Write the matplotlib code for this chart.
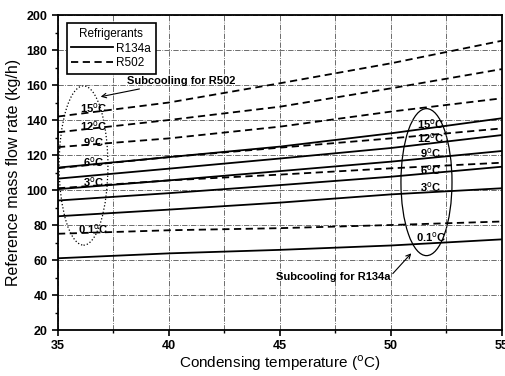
import numpy as np
import matplotlib.pyplot as plt
from matplotlib.patches import Ellipse
from matplotlib.ticker import MultipleLocator

plt.rcParams['font.family'] = ['Liberation Sans', 'DejaVu Sans']

# Condensing temperature (C)
t_cond = [35, 40, 45, 50, 55]

# subcooling levels
subcool = ['0.1', '3', '6', '9', '12', '15']

# R134a reference mass flow rate (kg/h), one list per subcooling level
r134a_01 = [61.0, 63.8, 65.8, 68.3, 71.8]
r134a_3 = [85.0, 88.8, 92.8, 97.5, 101.0]
r134a_6 = [94.0, 98.2, 102.8, 107.6, 113.3]
r134a_9 = [100.5, 105.5, 110.8, 116.2, 122.3]
r134a_12 = [106.5, 112.2, 118.0, 124.0, 131.4]
r134a_15 = [112.8, 118.8, 124.8, 132.4, 141.0]

# R502 reference mass flow rate (kg/h)
r502_01 = [75.0, 77.0, 78.2, 80.0, 82.0]
r502_3 = [101.0, 105.5, 108.8, 112.4, 115.6]
r502_6 = [112.5, 118.8, 124.2, 129.5, 135.2]
r502_9 = [124.5, 129.5, 136.2, 144.8, 152.4]
r502_12 = [133.0, 140.0, 147.6, 158.1, 169.1]
r502_15 = [142.0, 150.0, 161.0, 172.4, 185.3]

r134a = [r134a_01, r134a_3, r134a_6, r134a_9, r134a_12, r134a_15]
r502 = [r502_01, r502_3, r502_6, r502_9, r502_12, r502_15]

fig = plt.figure(figsize=(5.06, 3.76), dpi=100)
ax = fig.add_axes([0.1146, 0.1223, 0.8774, 0.8378])

for i, y in enumerate(r134a):
    ax.plot(t_cond, y, c='black', lw=1.3, label='R134a' if i == 0 else None)
for i, y in enumerate(r502):
    ax.plot(t_cond, y, c='black', lw=1.3, ls=(0, (4, 2.5)),
            label='R502' if i == 0 else None)

ax.set_xlim(35, 55)
ax.set_ylim(20, 200)
ax.xaxis.set_major_locator(MultipleLocator(5))
ax.xaxis.set_minor_locator(MultipleLocator(2.5))
ax.yaxis.set_major_locator(MultipleLocator(20))
ax.yaxis.set_minor_locator(MultipleLocator(10))
ax.grid(True, which='major', ls='-.', lw=0.6, c='#555555')
ax.grid(True, which='minor', axis='x', ls='-.', lw=0.6, c='#555555')
ax.tick_params(which='major', length=4, width=1.2, labelsize=9)
ax.tick_params(which='minor', length=2.5, width=1)
for lab in ax.get_xticklabels() + ax.get_yticklabels():
    lab.set_fontweight('bold')
for s in ax.spines.values():
    s.set_linewidth(1.3)

ax.set_xlabel('Condensing temperature ($^{\\rm o}$C)', fontsize=11, labelpad=1)
ax.set_ylabel('Reference mass flow rate (kg/h)', fontsize=11.5)

# subcooling ellipses
ax.add_patch(Ellipse((36.15, 114), 2.2, 91, fill=False, ls=':', lw=0.9, ec='black'))
ax.add_patch(Ellipse((51.6, 104.5), 2.3, 84, fill=False, lw=0.9, ec='black'))

# labels of subcooling levels
left_y = [77.5, 104.8, 116.2, 127.6, 136.6, 146.7]
right_y = [73.0, 101.9, 111.4, 121.0, 129.5, 137.7]
for s, yl, yr in zip(subcool, left_y, right_y):
    ax.text(36.6, yl, s + '$^{\\rm o}$C', fontsize=8, fontweight='bold',
            ha='center', va='center')
    ax.text(51.8, yr, s + '$^{\\rm o}$C', fontsize=8, fontweight='bold',
            ha='center', va='center')

ax.annotate('Subcooling for R502', xy=(36.8, 153), xytext=(38.1, 162.5),
            fontsize=8, fontweight='bold', va='center',
            arrowprops=dict(arrowstyle='->', lw=0.8, color='black'))
ax.annotate('Subcooling for R134a', xy=(51.0, 65), xytext=(44.8, 50.5),
            fontsize=8, fontweight='bold', va='center',
            arrowprops=dict(arrowstyle='->', lw=0.8, color='black',
                            shrinkA=0, relpos=(1, 0.5)))

leg = ax.legend(loc='upper left', title='Refrigerants', fontsize=8.5,
                title_fontsize=8.5, fancybox=False, edgecolor='black',
                framealpha=1, handlelength=3.5, borderpad=0.4,
                labelspacing=0.2, handletextpad=0.3,
                bbox_to_anchor=(0.006, 0.992))
leg.get_frame().set_linewidth(1.2)

plt.savefig('out.png', dpi=100)
